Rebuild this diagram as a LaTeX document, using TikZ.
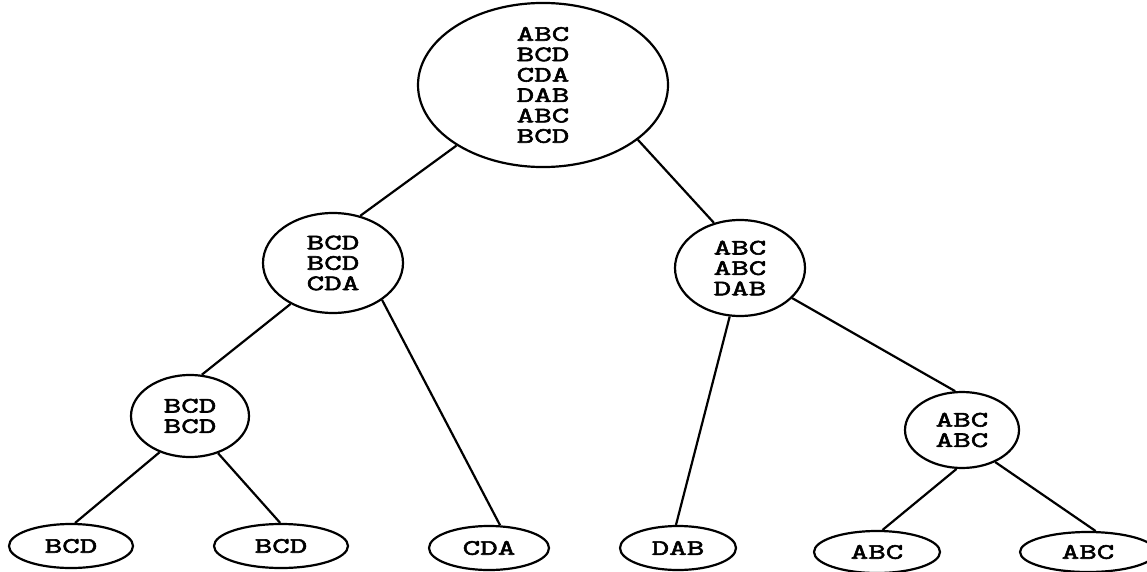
\documentclass[tikz,border=0pt]{standalone}
\usepackage{fontspec}
\newfontfamily\treefont{Latin Modern Mono}[FakeBold=2.6, FakeStretch=1.55]
\usetikzlibrary{shapes.geometric}

\begin{document}
\begin{tikzpicture}[x=1pt,y=-1pt,
  tnode/.style={draw, ellipse, line width=2.2pt, inner sep=0pt, align=center,
    font=\treefont\fontsize{22}{20.4}\selectfont},
  edge/.style={line width=2.2pt}]
\useasboundingbox (0,0) rectangle (1147,572);

% inner nodes
\node[tnode, minimum width=250pt, minimum height=144pt] (root) at (543,85)
  {ABC\\BCD\\CDA\\DAB\\ABC\\BCD};
\node[tnode, minimum width=140pt, minimum height=100pt] (l1) at (333,263)
  {BCD\\BCD\\CDA};
\node[tnode, minimum width=130pt, minimum height=96pt] (r1) at (740,268)
  {ABC\\ABC\\DAB};
\node[tnode, minimum width=118pt, minimum height=82pt] (l2) at (190,416)
  {BCD\\BCD};
\node[tnode, minimum width=114pt, minimum height=76pt] (r2) at (962,430)
  {ABC\\ABC};

% leaves
\node[tnode, minimum width=124pt, minimum height=44pt] (f1) at (71,546) {BCD};
\node[tnode, minimum width=134pt, minimum height=44pt] (f2) at (281,546) {BCD};
\node[tnode, minimum width=120pt, minimum height=44pt] (f3) at (489,548) {CDA};
\node[tnode, minimum width=116pt, minimum height=44pt] (f4) at (678,548) {DAB};
\node[tnode, minimum width=126pt, minimum height=42pt] (f5) at (877,552) {ABC};
\node[tnode, minimum width=136pt, minimum height=40pt] (f6) at (1088,552) {ABC};

% branches
\draw[edge] (root.215) -- (l1.60);
\draw[edge] (root.330) -- (r1.120);
\draw[edge] (l1.224) -- (l2.74);
\draw[edge] (l1.323) -- (f3.64);
\draw[edge] (r1.258) -- (f4.95);
\draw[edge] (r1.330) -- (r2.100);
\draw[edge] (l2.230) -- (f1.80);
\draw[edge] (l2.307) -- (f2.92);
\draw[edge] (r2.262) -- (f5.76);
\draw[edge] (r2.316) -- (f6.70);
\end{tikzpicture}
\end{document}
